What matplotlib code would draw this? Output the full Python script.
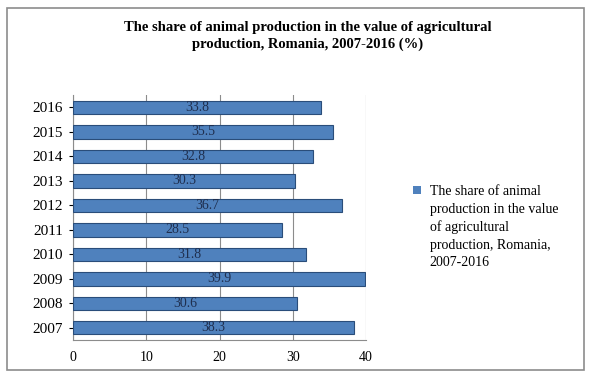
import matplotlib.pyplot as plt
from matplotlib.patches import Rectangle

years = ["2007", "2008", "2009", "2010", "2011", "2012", "2013", "2014", "2015", "2016"]
share = [38.3, 30.6, 39.9, 31.8, 28.5, 36.7, 30.3, 32.8, 35.5, 33.8]
xticks = [0, 10, 20, 30, 40]

title = "The share of animal production in the value of agricultural\nproduction, Romania, 2007-2016 (%)"
legend_text = ("The share of animal\nproduction in the value\nof agricultural\n"
               "production, Romania,\n2007-2016")

plt.rcParams['font.family'] = ['Liberation Serif', 'DejaVu Serif']

fig = plt.figure(figsize=(5.91, 3.78), dpi=100)
fig.patch.set_facecolor("white")
# chart border
fig.add_artist(Rectangle((0.012, 0.02), 0.976, 0.96, transform=fig.transFigure,
                         fill=False, edgecolor="#8c8c8c", linewidth=1.2))

ax = fig.add_axes([0.1235, 0.1005, 0.496, 0.648])
pos = list(range(len(years)))
ax.barh(pos, share, height=0.55, color="#4F81BD", edgecolor="#2a4d7a", linewidth=0.8, zorder=3)
for p, v in zip(pos, share):
    ax.text(v / 2, p, f"{v}", ha="center", va="center", fontsize=10,
            color="#1f2f4f", zorder=4)

ax.set_xlim(0, 40)
ax.set_ylim(-0.5, len(years) - 0.5)
ax.set_xticks(xticks)
ax.set_yticks(pos)
ax.set_yticklabels(years, fontsize=11)
ax.tick_params(axis="x", labelsize=10, length=0, pad=8)
ax.tick_params(axis="y", length=3, pad=4)
ax.grid(axis="x", color="#8c8c8c", linewidth=0.8, zorder=0)
for s in ["top", "right"]:
    ax.spines[s].set_visible(False)
ax.spines["left"].set_color("#8c8c8c")
ax.spines["bottom"].set_color("#8c8c8c")

fig.text(0.52, 0.905, title, ha="center", va="center", fontsize=10.5,
         fontweight="bold", linespacing=1.35)

fig.add_artist(Rectangle((0.699, 0.487), 0.013, 0.02, transform=fig.transFigure,
                         facecolor="#4F81BD", edgecolor="none"))
fig.text(0.727, 0.510, legend_text, ha="left", va="top", fontsize=10, linespacing=1.45)

fig.savefig("out.png", dpi=100)
